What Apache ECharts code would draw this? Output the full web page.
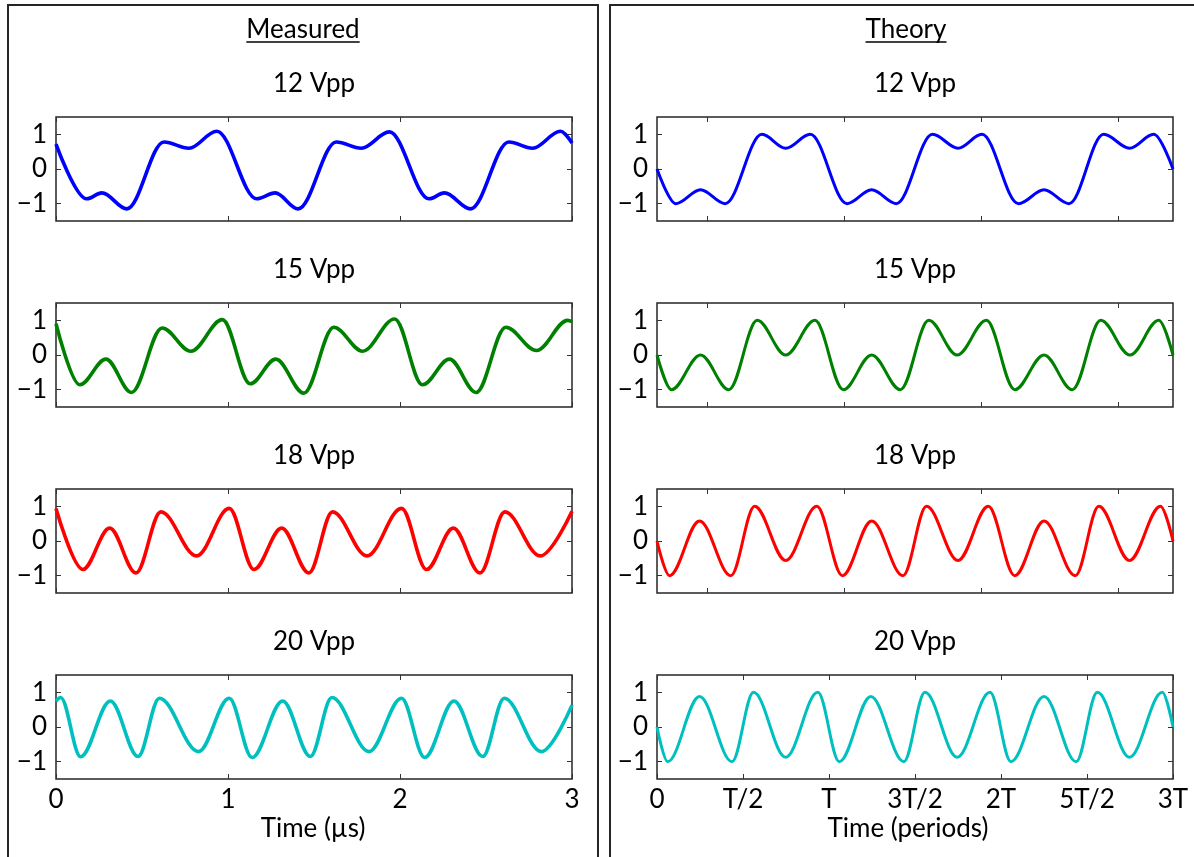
<!DOCTYPE html>
<html>
<head>
<meta charset="utf-8">
<script src="https://cdn.jsdelivr.net/npm/echarts@6/dist/echarts.min.js"></script>
<style>
  html, body { margin: 0; padding: 0; background: #fff; }
  #chart { width: 1194px; height: 857px; }
</style>
</head>
<body>
<div id="chart"></div>
<script>
// ---- text ----
const panelTitles = ['Measured', 'Theory'];
const rowLabels = ['12 Vpp', '15 Vpp', '18 Vpp', '20 Vpp'];
const xAxisNames = ['Time (µs)', 'Time (periods)'];

// ---- ticks ----
const measuredTicks = [0, 1, 2, 3];
const theoryTicks = [0, 0.5, 1, 1.5, 2, 2.5, 3];
const theoryTickLabels = ['0', 'T/2', 'T', '3T/2', '2T', '5T/2', '3T'];
const theoryUpperTicks = [0.295, 1.087, 1.884, 2.679];
const yTicks = [-1, 0, 1];

// ---- colours per drive level ----
const lineColors = ['#0000ff', '#008000', '#ff0000', '#00bfbf'];

// ---- measured waveforms: [time µs, normalised amplitude] at turning points ----
const measured12 = [[0, 0.72], [0.178, -0.86], [0.267, -0.69], [0.412, -1.15], [0.628, 0.78], [0.773, 0.60],
  [0.935, 1.09], [1.167, -0.86], [1.274, -0.69], [1.408, -1.15], [1.630, 0.78], [1.775, 0.60], [1.938, 1.07],
  [2.169, -0.86], [2.258, -0.69], [2.410, -1.15], [2.633, 0.78], [2.771, 0.60], [2.933, 1.09], [3.0, 0.75]];
const measured15 = [[0, 0.90], [0.138, -0.86], [0.290, -0.12], [0.439, -1.08], [0.617, 0.78], [0.784, 0.11],
  [0.967, 1.02], [1.129, -0.83], [1.278, -0.12], [1.441, -1.10], [1.615, 0.80], [1.782, 0.11], [1.969, 1.04],
  [2.131, -0.86], [2.287, -0.12], [2.443, -1.08], [2.615, 0.80], [2.793, 0.13], [2.975, 1.0], [3.0, 0.96]];
const measured18 = [[0, 0.94], [0.156, -0.82], [0.312, 0.37], [0.465, -0.92], [0.610, 0.84], [0.817, -0.43],
  [1.007, 0.94], [1.151, -0.82], [1.312, 0.37], [1.470, -0.92], [1.608, 0.84], [1.808, -0.43], [2.009, 0.94],
  [2.154, -0.82], [2.310, 0.37], [2.465, -0.92], [2.610, 0.84], [2.815, -0.43], [3.0, 0.86]];
const measured20 = [[0, 0.75], [0.027, 0.85], [0.143, -0.86], [0.316, 0.75], [0.477, -0.85], [0.601, 0.83],
  [0.829, -0.71], [1.007, 0.83], [1.140, -0.88], [1.318, 0.75], [1.479, -0.85], [1.604, 0.85], [1.820, -0.71],
  [2.009, 0.83], [2.143, -0.88], [2.314, 0.75], [2.481, -0.85], [2.606, 0.83], [2.822, -0.71], [3.0, 0.63]];

// ---- theoretical waveforms: [time in periods, normalised amplitude] at turning points ----
const theory12 = [[0, 0], [0.110, -1], [0.253, -0.6], [0.396, -1], [0.610, 1], [0.748, 0.6], [0.891, 1],
  [1.105, -1], [1.248, -0.6], [1.391, -1], [1.602, 1], [1.750, 0.6], [1.889, 1], [2.102, -1], [2.250, -0.6],
  [2.395, -1], [2.597, 1], [2.747, 0.6], [2.888, 1], [3.0, 0]];
const theory15 = [[0, 0], [0.084, -1], [0.253, 0], [0.418, -1], [0.583, 1], [0.748, 0], [0.918, 1],
  [1.083, -1], [1.248, 0], [1.415, -1], [1.580, 1], [1.745, 0], [1.915, 1], [2.080, -1], [2.250, 0],
  [2.415, -1], [2.580, 1], [2.750, 0], [2.917, 1], [3.0, 0]];
const theory18 = [[0, 0], [0.073, -1], [0.247, 0.58], [0.429, -1], [0.568, 1], [0.748, -0.56], [0.929, 1],
  [1.078, -1], [1.248, 0.58], [1.430, -1], [1.567, 1], [1.750, -0.56], [1.926, 1], [2.080, -1], [2.250, 0.58],
  [2.432, -1], [2.569, 1], [2.747, -0.56], [2.927, 1], [3.0, 0]];
const theory20 = [[0, 0], [0.062, -1], [0.247, 0.88], [0.436, -1], [0.561, 1], [0.748, -0.87], [0.935, 1],
  [1.060, -1], [1.243, 0.88], [1.435, -1], [1.558, 1], [1.745, -0.87], [1.936, 1], [2.058, -1], [2.250, 0.88],
  [2.437, -1], [2.560, 1], [2.747, -0.87], [2.938, 1], [3.0, 0]];

const measuredSeries = [measured12, measured15, measured18, measured20];
const theorySeries = [theory12, theory15, theory18, theory20];

// ---- layout ----
const FONT = 'Lato, "Open Sans", sans-serif';
const FS = 26;
const colLeft = [56, 657];
const plotW = 516;
const rowTop = [117, 303, 489, 675];
const plotH = 104;
const ink = '#000';
const frame = '#262626';

const minus = v => (v < 0 ? '\u2212' + Math.abs(v) : String(v));

const grid = [], xAxis = [], yAxis = [], series = [];
let axisIdx = 0;

for (let c = 0; c < 2; c++) {
  for (let r = 0; r < 4; r++) {
    const g = grid.length;
    const isBottom = r === 3;
    grid.push({
      left: colLeft[c], top: rowTop[r], width: plotW, height: plotH,
      show: true, borderColor: frame, borderWidth: 1.5, backgroundColor: 'transparent',
      containLabel: false, outerBoundsMode: 'none'
    });
    let ticks;
    if (c === 0) ticks = measuredTicks;
    else ticks = isBottom ? theoryTicks : theoryUpperTicks;

    const labelFmt = c === 0
      ? v => String(Math.round(v))
      : v => theoryTickLabels[Math.round(v * 2)];

    ['bottom', 'top'].forEach(pos => {
      xAxis.push({
        gridIndex: g, type: 'value', min: 0, max: 3, position: pos,
        axisLine: { show: false, onZero: false }, splitLine: { show: false },
        axisTick: { show: true, inside: true, length: 5, customValues: ticks,
          lineStyle: { color: '#333', width: 1 } },
        axisLabel: {
          show: pos === 'bottom' && isBottom,
          customValues: isBottom ? ticks : undefined,
          formatter: labelFmt, margin: 8,
          fontSize: FS, fontFamily: FONT, color: ink
        }
      });
    });
    ['left', 'right'].forEach(pos => {
      yAxis.push({
        gridIndex: g, type: 'value', min: -1.5, max: 1.5, position: pos,
        axisLine: { show: false, onZero: false }, splitLine: { show: false },
        axisTick: { show: true, inside: true, length: 5, customValues: yTicks,
          lineStyle: { color: '#333', width: 1 } },
        axisLabel: {
          show: pos === 'left', customValues: yTicks, formatter: minus, margin: 9,
          fontSize: FS, fontFamily: FONT, color: ink
        }
      });
    });

    series.push({
      type: 'line',
      xAxisIndex: axisIdx * 2, yAxisIndex: axisIdx * 2,
      data: c === 0 ? measuredSeries[r] : theorySeries[r],
      showSymbol: false, symbol: 'none',
      smooth: 0.35, smoothMonotone: 'x',
      lineStyle: { color: lineColors[r], width: c === 0 ? 3.6 : 3 },
      itemStyle: { color: lineColors[r] },
      clip: true, silent: true
    });
    axisIdx++;
  }
}

// ---- annotations: panel frames, titles, subplot labels, axis names ----
const measureCtx = document.createElement('canvas').getContext('2d');
measureCtx.font = FS + 'px ' + FONT;

const graphic = [
  { type: 'rect', shape: { x: 8, y: 5, width: 590, height: 900 },
    style: { fill: 'none', stroke: frame, lineWidth: 2 }, z: 0, silent: true },
  { type: 'rect', shape: { x: 610, y: 5, width: 600, height: 900 },
    style: { fill: 'none', stroke: frame, lineWidth: 2 }, z: 0, silent: true }
];

const panelCenters = [303, 906];
panelTitles.forEach((t, i) => {
  const w = measureCtx.measureText(t).width;
  graphic.push({ type: 'text', silent: true,
    style: { text: t, x: panelCenters[i], y: 30, font: FS + 'px ' + FONT, fill: ink,
      textAlign: 'center', textVerticalAlign: 'middle' } });
  graphic.push({ type: 'line', silent: true,
    shape: { x1: panelCenters[i] - w / 2, y1: 42, x2: panelCenters[i] + w / 2, y2: 42 },
    style: { stroke: ink, lineWidth: 1.5 } });
});

for (let c = 0; c < 2; c++) {
  rowLabels.forEach((t, r) => {
    graphic.push({ type: 'text', silent: true,
      style: { text: t, x: colLeft[c] + plotW / 2, y: rowTop[r] - 33, font: FS + 'px ' + FONT,
        fill: ink, textAlign: 'center', textVerticalAlign: 'middle' } });
  });
}

const axisNameX = [313, 908];
xAxisNames.forEach((t, i) => {
  graphic.push({ type: 'text', silent: true,
    style: { text: t, x: axisNameX[i], y: 829, font: FS + 'px ' + FONT, fill: ink,
      textAlign: 'center', textVerticalAlign: 'middle' } });
});

const chart = echarts.init(document.getElementById('chart'), null, { renderer: 'canvas' });
chart.setOption({
  backgroundColor: '#fff',
  animation: false,
  grid, xAxis, yAxis, series, graphic
});
</script>
</body>
</html>
